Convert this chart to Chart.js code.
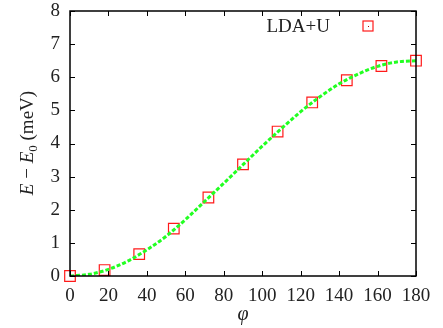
<!DOCTYPE html>
<html lang="en">
<head>
<meta charset="UTF-8" />
<title>E - E0 vs phi</title>
<style>
  html, body { margin: 0; padding: 0; background: #fff; }
</style>
</head>
<body>
<canvas id="grafico" width="443" height="328"></canvas>
<script src="https://cdn.jsdelivr.net/npm/chart.js"></script>
<script>
  // pontos LDA+U
  var angulos = [0, 18, 36, 54, 72, 90, 108, 126, 144, 162, 180];
  var energias = [0.0, 0.18, 0.66, 1.43, 2.37, 3.37, 4.36, 5.24, 5.91, 6.34, 6.50];

  // curva ajustada (a cada 10 graus)
  var angulos_ajuste = [0, 10, 20, 30, 40, 50, 60, 70, 80, 90, 100, 110, 120, 130, 140, 150, 160, 170, 180];
  var energias_ajuste = [0.0, 0.05, 0.2, 0.45, 0.79, 1.2, 1.7, 2.25, 2.8, 3.36, 3.92, 4.45, 4.96, 5.41, 5.8, 6.1, 6.33, 6.46, 6.5];

  var ticks_x = [0, 20, 40, 60, 80, 100, 120, 140, 160, 180];
  var ticks_y = [0, 1, 2, 3, 4, 5, 6, 7, 8];

  var fonte = "Liberation Serif";
  var vermelho = "#ff1a1a";
  var verde = "#22ff22";

  function pares(xs, ys) {
    var lista = [];
    for (var c = 0; c < xs.length; c++) {
      lista.push({ x: xs[c], y: ys[c] });
    }
    return lista;
  }

  // moldura, ticks para dentro, titulos e legenda
  var moldura = {
    id: "moldura",
    afterDatasetsDraw: function (chart) {
      var ctx = chart.ctx;
      var a = chart.chartArea;
      var sx = chart.scales.x;
      var sy = chart.scales.y;
      var t = 5;
      ctx.save();
      ctx.strokeStyle = "#000";
      ctx.lineWidth = 1.5;
      ctx.strokeRect(a.left, a.top, a.right - a.left, a.bottom - a.top);
      ctx.lineWidth = 1;
      ctx.beginPath();
      for (var c = 0; c < ticks_x.length; c++) {
        var px = Math.round(sx.getPixelForValue(ticks_x[c])) + 0.5;
        ctx.moveTo(px, a.bottom); ctx.lineTo(px, a.bottom - t);
        ctx.moveTo(px, a.top); ctx.lineTo(px, a.top + t);
      }
      for (var c = 0; c < ticks_y.length; c++) {
        var py = Math.round(sy.getPixelForValue(ticks_y[c])) + 0.5;
        ctx.moveTo(a.left, py); ctx.lineTo(a.left + t, py);
        ctx.moveTo(a.right, py); ctx.lineTo(a.right - t, py);
      }
      ctx.stroke();

      ctx.fillStyle = "#222";
      ctx.textBaseline = "alphabetic";

      // titulo do eixo x
      ctx.font = "italic 20px '" + fonte + "'";
      ctx.textAlign = "center";
      ctx.fillText("\u03C6", 243, 320);

      // titulo do eixo y: E - E0 (meV)
      ctx.save();
      ctx.translate(33, 143);
      ctx.rotate(-Math.PI / 2);
      var partes = [
        { s: "E", f: "italic 19px '" + fonte + "'", dy: 0 },
        { s: " \u2212 ", f: "19px '" + fonte + "'", dy: 0 },
        { s: "E", f: "italic 19px '" + fonte + "'", dy: 0 },
        { s: "0", f: "13px '" + fonte + "'", dy: 4 },
        { s: " (meV)", f: "19px '" + fonte + "'", dy: 0 }
      ];
      var total = 0;
      for (var c = 0; c < partes.length; c++) {
        ctx.font = partes[c].f;
        total += ctx.measureText(partes[c].s).width;
      }
      var x0 = -total / 2;
      ctx.textAlign = "left";
      for (var c = 0; c < partes.length; c++) {
        ctx.font = partes[c].f;
        ctx.fillText(partes[c].s, x0, partes[c].dy);
        x0 += ctx.measureText(partes[c].s).width;
      }
      ctx.restore();

      // legenda
      ctx.font = "19px '" + fonte + "'";
      ctx.textAlign = "right";
      ctx.fillText("LDA+U", 330, 32);
      ctx.strokeStyle = vermelho;
      ctx.lineWidth = 1.2;
      ctx.strokeRect(363, 21, 10, 10);
      ctx.fillStyle = "#a00";
      ctx.fillRect(368, 26, 1, 1);
      ctx.restore();
    }
  };

  var data = {
    datasets: [
      {
        label: "ajuste",
        data: pares(angulos_ajuste, energias_ajuste),
        showLine: true,
        borderColor: verde,
        borderWidth: 3,
        borderDash: [4, 2],
        cubicInterpolationMode: "monotone",
        pointRadius: 0,
        order: 0
      },
      {
        label: "LDA+U",
        data: pares(angulos, energias),
        showLine: false,
        pointStyle: "rect",
        pointRadius: 7.5,
        pointBorderColor: vermelho,
        pointBackgroundColor: "rgba(0,0,0,0)",
        pointBorderWidth: 1.2,
        clip: false,
        order: 1
      }
    ]
  };

  var config = {
    type: "scatter",
    data: data,
    options: {
      responsive: false,
      animation: false,
      layout: { padding: { left: 0, right: 27, top: 11, bottom: 0 } },
      plugins: {
        legend: { display: false },
        tooltip: { enabled: false }
      },
      scales: {
        x: {
          type: "linear",
          min: 0,
          max: 180,
          afterBuildTicks: function (s) { s.ticks = ticks_x.map(function (v) { return { value: v }; }); },
          afterFit: function (s) {
            s.height = 52;
            s.paddingLeft = 0;
            s.paddingRight = 0;
          },
          grid: { display: false, drawTicks: false },
          border: { display: false },
          ticks: { color: "#222", padding: 9, maxRotation: 0, font: { family: fonte, size: 19 } }
        },
        y: {
          type: "linear",
          min: 0,
          max: 8,
          afterBuildTicks: function (s) { s.ticks = ticks_y.map(function (v) { return { value: v }; }); },
          afterFit: function (s) {
            s.width = 70;
            s.paddingTop = 0;
            s.paddingBottom = 0;
          },
          grid: { display: false, drawTicks: false },
          border: { display: false },
          ticks: { color: "#222", padding: 10, font: { family: fonte, size: 19 } }
        }
      }
    },
    plugins: [moldura]
  };

  var grafico = new Chart(document.getElementById("grafico"), config);
</script>
</body>
</html>
